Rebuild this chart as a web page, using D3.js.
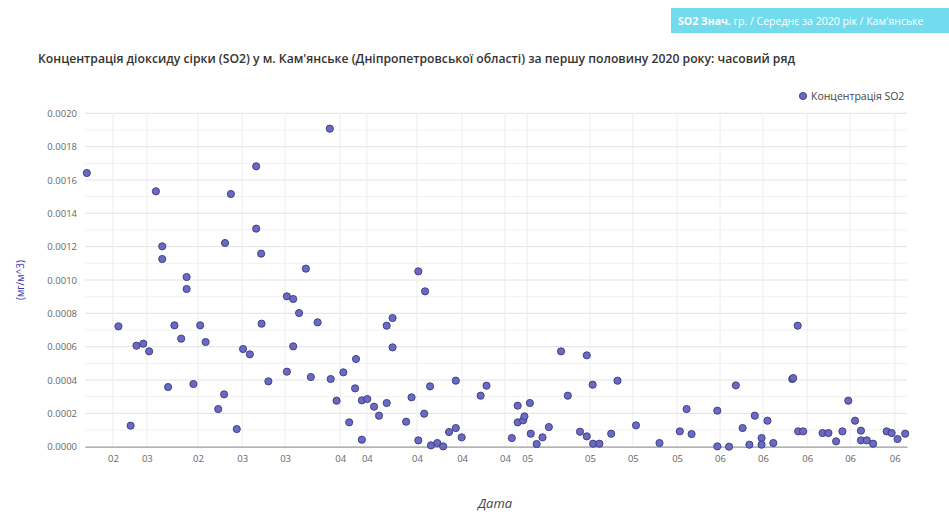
<!DOCTYPE html>
<html>
<head>
<meta charset="utf-8">
<script src="https://cdn.jsdelivr.net/npm/d3@7"></script>
<style>
  html, body { margin: 0; padding: 0; background: #fff; }
  svg { display: block; font-family: "Open Sans", "Noto Sans", sans-serif; }
</style>
</head>
<body>
<svg id="chart" width="949" height="515"></svg>
<script>
// ---- data ----
const title = "Концентрація діоксиду сірки (SO2) у м. Кам'янське (Дніпропетровської області) за першу половину 2020 року: часовий ряд";
const seriesName = "Концентрація SO2";
const yLabel = "(мг/м^3)";
const xLabel = "Дата";
const buttonBold = "SO2 Знач.";
const buttonText = " гр. / Середнє за 2020 рік / Кам'янське";

// observation position (day index, first half of 2020)
const obsT = [
  0.4, 7.4, 10.1, 11.4, 12.9, 14.2, 15.7, 17.1, 17.1, 18.4,
  19.8, 21.3, 22.5, 22.5, 24.0, 25.5, 26.7, 29.5, 30.8, 31.0,
  32.3, 33.6, 35.0, 36.5, 37.9, 37.9, 39.0, 39.1, 40.6, 44.7,
  44.7, 46.1, 46.1, 47.4, 48.9, 50.0, 51.5, 54.2, 54.4, 55.7,
  57.2, 58.5, 59.8, 60.0, 61.3, 61.3, 62.5, 64.0, 65.1, 66.8,
  66.8, 68.1, 68.1, 71.1, 72.3, 73.8, 73.8, 75.1, 75.3, 76.4,
  76.6, 78.0, 79.3, 80.6, 82.1, 82.1, 83.4, 87.6, 88.9, 94.5,
  95.8, 95.8, 97.0, 97.3, 98.5, 98.7, 100.0, 101.3, 102.7, 105.4,
  106.9, 109.6, 111.1, 111.1, 112.4, 112.5, 113.9, 116.5, 117.9, 122.0,
  127.2, 131.7, 133.2, 134.3, 140.0, 140.0, 142.6, 144.1, 145.6, 147.1,
  148.3, 149.8, 149.8, 151.1, 152.4, 156.6, 156.8, 157.8, 157.9, 159.0,
  163.3, 164.6, 166.3, 167.7, 169.0, 170.5, 171.8, 171.8, 173.1, 174.5,
  177.5, 178.6, 179.9, 181.6
];
// SO2 concentration
const so2 = [
  0.001642, 0.000722, 0.000126, 0.000606, 0.000618, 0.000572, 0.001532, 0.001202, 0.001126, 0.000358,
  0.000728, 0.000648, 0.001018, 0.000946, 0.000376, 0.000728, 0.000628, 0.000226, 0.000314, 0.001222,
  0.001516, 0.000106, 0.000586, 0.000554, 0.001682, 0.001308, 0.001158, 0.000738, 0.000392, 0.000902,
  0.000450, 0.000886, 0.000602, 0.000802, 0.001068, 0.000418, 0.000746, 0.001908, 0.000406, 0.000276,
  0.000446, 0.000146, 0.000350, 0.000526, 0.000278, 0.000042, 0.000286, 0.000240, 0.000186, 0.000726,
  0.000262, 0.000772, 0.000596, 0.000150, 0.000296, 0.001052, 0.000038, 0.000198, 0.000932, 0.000362,
  0.000008, 0.000022, 0.000002, 0.000088, 0.000112, 0.000396, 0.000056, 0.000306, 0.000366, 0.000052,
  0.000246, 0.000146, 0.000158, 0.000182, 0.000262, 0.000078, 0.000016, 0.000056, 0.000118, 0.000572,
  0.000306, 0.000090, 0.000062, 0.000548, 0.000372, 0.000018, 0.000018, 0.000078, 0.000396, 0.000128,
  0.000022, 0.000092, 0.000226, 0.000076, 0.000216, 0.000002, 0.000000, 0.000368, 0.000112, 0.000012,
  0.000186, 0.000052, 0.000012, 0.000156, 0.000022, 0.000406, 0.000412, 0.000726, 0.000092, 0.000092,
  0.000082, 0.000082, 0.000032, 0.000092, 0.000276, 0.000156, 0.000096, 0.000038, 0.000038, 0.000018,
  0.000092, 0.000082, 0.000046, 0.000078
];

// x tick positions and labels
const xTickPos = [6.2, 13.7, 25.0, 34.8, 44.3, 56.5, 62.4, 73.5, 83.5, 93.0, 97.9, 111.8, 121.3, 131.1, 140.6, 150.1, 159.9, 169.4, 179.3];
const xTickLabels = ["02", "03", "02", "03", "03", "04", "04", "04", "04", "04", "05", "05", "05", "05", "06", "06", "06", "06", "06"];
const yTicks = [0, 0.0002, 0.0004, 0.0006, 0.0008, 0.0010, 0.0012, 0.0014, 0.0016, 0.0018, 0.0020];
const yMinorTicks = [0.0001, 0.0003, 0.0005, 0.0007, 0.0009, 0.0011, 0.0013, 0.0015, 0.0017, 0.0019];

// ---- layout ----
const svg = d3.select("#chart");
const M = { left: 85, right: 907, top: 113.3, bottom: 446.7 };

const x = d3.scaleLinear().domain([0, 182]).range([M.left, M.right]);
const y = d3.scaleLinear().domain([0, 0.002]).range([M.bottom, M.top]);

// top-right button
svg.append("rect").attr("x", 671).attr("y", 8).attr("width", 290).attr("height", 25)
  .attr("fill", "#72dcee");
const bt = svg.append("text").attr("x", 678).attr("y", 24.5)
  .attr("font-size", 10.5).attr("fill", "#fff");
bt.append("tspan").attr("font-weight", 700).text(buttonBold);
bt.append("tspan").text(buttonText);

// title
svg.append("text").attr("x", 38).attr("y", 63)
  .attr("font-size", 12).attr("font-weight", 600).attr("fill", "#333")
  .attr("textLength", 757).attr("lengthAdjust", "spacingAndGlyphs")
  .text(title);

// minor gridlines
const grid = svg.append("g");
grid.selectAll("line.hmin").data(yMinorTicks).join("line")
  .attr("x1", M.left).attr("x2", M.right)
  .attr("y1", d => y(d)).attr("y2", d => y(d))
  .attr("stroke", "#f1f1f1").attr("stroke-width", 1);
// major horizontal
grid.selectAll("line.hmaj").data(yTicks.slice(1)).join("line")
  .attr("x1", M.left).attr("x2", M.right)
  .attr("y1", d => y(d)).attr("y2", d => y(d))
  .attr("stroke", "#e2e2e2").attr("stroke-width", 1);
// vertical
grid.selectAll("line.v").data(xTickPos).join("line")
  .attr("x1", d => x(d)).attr("x2", d => x(d))
  .attr("y1", M.top).attr("y2", M.bottom)
  .attr("stroke", "#ececec").attr("stroke-width", 1);

// y axis
const yAxis = d3.axisLeft(y).tickValues(yTicks).tickFormat(d3.format(".4f")).tickSize(0).tickPadding(8);
const gy = svg.append("g").attr("transform", `translate(${M.left},0)`).call(yAxis);
gy.select(".domain").remove();
gy.selectAll("text").attr("font-size", 9.5).attr("fill", "#666").attr("font-family", "Open Sans, sans-serif");

// x axis
const xAxis = d3.axisBottom(x).tickValues(xTickPos).tickFormat((d, i) => xTickLabels[i]).tickSize(0).tickPadding(9);
const gx = svg.append("g").attr("transform", `translate(0,${M.bottom})`).call(xAxis);
gx.select(".domain").attr("stroke", "#9a9a9a").attr("stroke-width", 1.2);
gx.selectAll("text").attr("font-size", 9.5).attr("fill", "#666").attr("font-family", "Open Sans, sans-serif");

// axis titles
svg.append("text").attr("transform", `translate(24,${(M.top + M.bottom) / 2}) rotate(-90)`)
  .attr("text-anchor", "middle").attr("font-size", 10).attr("fill", "#3a3aa8")
  .text(yLabel);
svg.append("text").attr("x", 495).attr("y", 508).attr("text-anchor", "middle")
  .attr("font-size", 13).attr("font-style", "italic").attr("fill", "#444")
  .text(xLabel);

// points
const pts = obsT.map((t, i) => ({ t, v: so2[i] }));
svg.append("g").selectAll("circle").data(pts).join("circle")
  .attr("cx", d => x(d.t)).attr("cy", d => y(d.v)).attr("r", 3.6)
  .attr("fill", "#6a6ac4").attr("stroke", "#3a3a7a").attr("stroke-width", 0.9);

// legend
const lg = svg.append("g").attr("transform", "translate(803,96)");
lg.append("circle").attr("cx", 0).attr("cy", 0).attr("r", 3.6)
  .attr("fill", "#6a6ac4").attr("stroke", "#3a3a7a").attr("stroke-width", 0.9);
lg.append("text").attr("x", 8).attr("y", 3.5).attr("font-size", 10.5).attr("fill", "#444")
  .text(seriesName);
</script>
</body>
</html>
